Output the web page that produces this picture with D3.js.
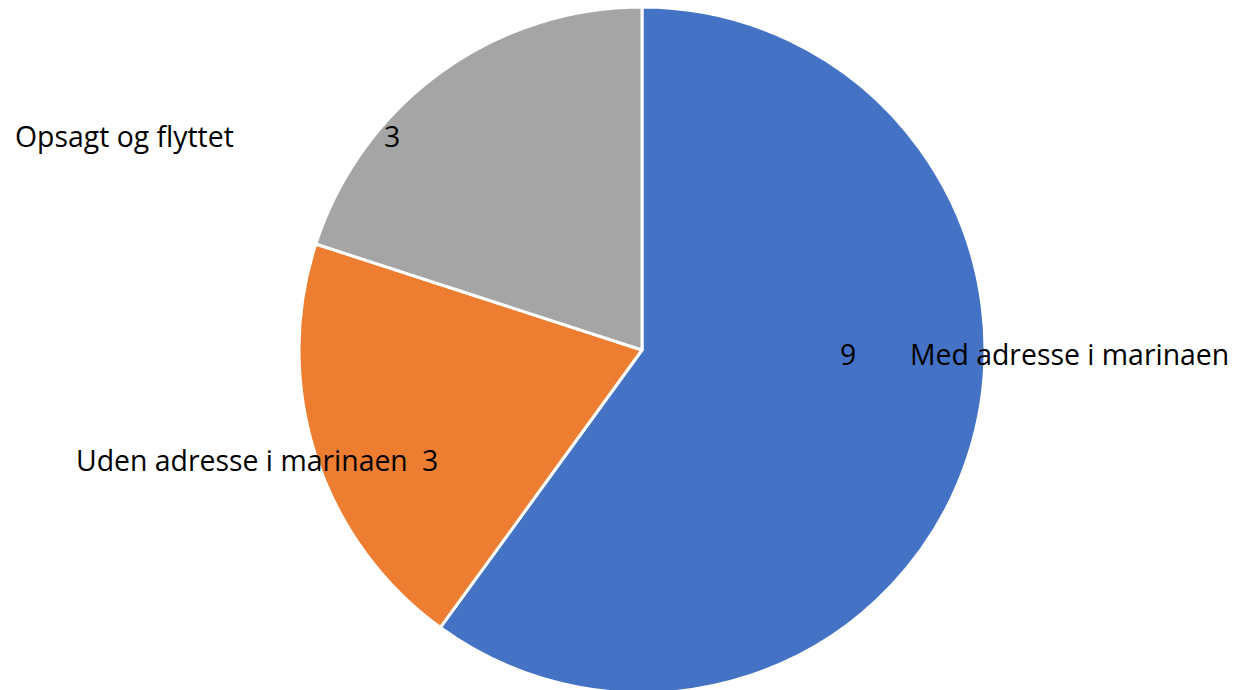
<!DOCTYPE html>
<html>
<head>
<meta charset="utf-8">
<script src="https://cdn.jsdelivr.net/npm/d3@7"></script>
<style>
  body { margin: 0; background: #fff; }
  text { font-family: "Open Sans", "Liberation Sans", sans-serif; fill: #000; }
</style>
</head>
<body>
<svg id="chart" width="1236" height="690"></svg>
<script>
const categories = ["Med adresse i marinaen", "Uden adresse i marinaen", "Opsagt og flyttet"];
const values = [9, 3, 3];
const colors = ["#4472c4", "#ed7d31", "#a5a5a5"];

// label placement (layout only): name start x / baseline, value centre x
const labelLayout = [
    {nameX: 910, nameY: 365, valueX: 848, valueY: 365},
    {nameX: 76, nameY: 471, valueX: 430, valueY: 471},
    {nameX: 15, nameY: 147, valueX: 392, valueY: 147}
];

const width = 1236, height = 690;
const cx = 642, cy = 350, radius = 343;

const svg = d3.select("#chart");

const data = categories.map((c, i) => ({name: c, value: values[i], color: colors[i], layout: labelLayout[i]}));

const pie = d3.pie().value(d => d.value).sort(null);
const arc = d3.arc().innerRadius(0).outerRadius(radius);

const g = svg.append("g").attr("transform", `translate(${cx},${cy})`);

g.selectAll("path")
    .data(pie(data))
    .enter().append("path")
    .attr("d", arc)
    .attr("fill", d => d.data.color)
    .attr("stroke", "#fff")
    .attr("stroke-width", 3)
    .attr("stroke-linejoin", "round");

const labels = svg.append("g").style("font-size", "28.4px");

labels.selectAll("text.name")
    .data(data)
    .enter().append("text")
    .attr("class", "name")
    .attr("x", d => d.layout.nameX)
    .attr("y", d => d.layout.nameY)
    .text(d => d.name);

labels.selectAll("text.value")
    .data(data)
    .enter().append("text")
    .attr("class", "value")
    .attr("text-anchor", "middle")
    .attr("x", d => d.layout.valueX)
    .attr("y", d => d.layout.valueY)
    .text(d => d.value);
</script>
</body>
</html>
